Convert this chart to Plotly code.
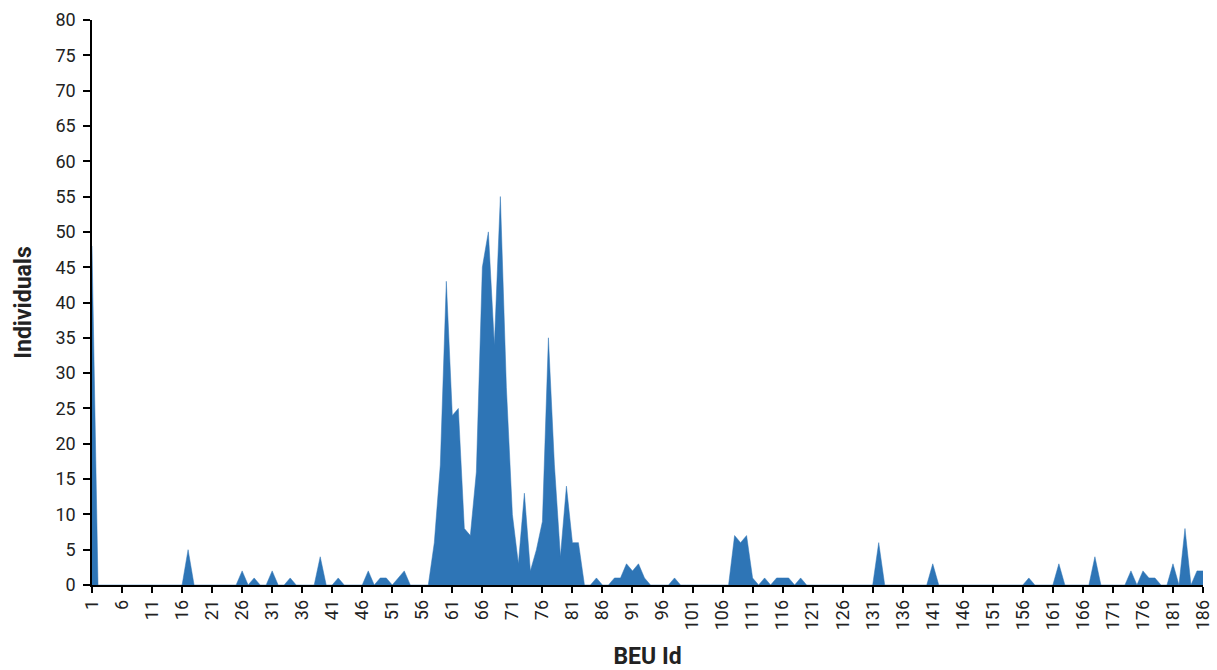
import plotly.graph_objects as go

# BEU ids (categories 1..186)
beu_ids = list(range(1, 187))

# Individuals per BEU id
individuals = [
    48, 0, 0, 0, 0, 0, 0, 0, 0, 0,            # 1-10
    0, 0, 0, 0, 0, 0, 5, 0, 0, 0,             # 11-20
    0, 0, 0, 0, 0, 2, 0, 1, 0, 0,             # 21-30
    2, 0, 0, 1, 0, 0, 0, 0, 4, 0,             # 31-40
    0, 1, 0, 0, 0, 0, 2, 0, 1, 1,             # 41-50
    0, 1, 2, 0, 0, 0, 0, 6, 17, 43,           # 51-60
    24, 25, 8, 7, 16, 45, 50, 34, 55, 28,     # 61-70
    10, 3, 13, 2, 5, 9, 35, 17, 4, 14,        # 71-80
    6, 6, 0, 0, 1, 0, 0, 1, 1, 3,             # 81-90
    2, 3, 1, 0, 0, 0, 0, 1, 0, 0,             # 91-100
    0, 0, 0, 0, 0, 0, 0, 7, 6, 7,             # 101-110
    1, 0, 1, 0, 1, 1, 1, 0, 1, 0,             # 111-120
    0, 0, 0, 0, 0, 0, 0, 0, 0, 0,             # 121-130
    0, 6, 0, 0, 0, 0, 0, 0, 0, 0,             # 131-140
    3, 0, 0, 0, 0, 0, 0, 0, 0, 0,             # 141-150
    0, 0, 0, 0, 0, 0, 1, 0, 0, 0,             # 151-160
    0, 3, 0, 0, 0, 0, 0, 4, 0, 0,             # 161-170
    0, 0, 0, 2, 0, 2, 1, 1, 0, 0,             # 171-180
    3, 0, 8, 0, 2, 2,                         # 181-186
]

x_tick_vals = [1, 6, 11, 16, 21, 26, 31, 36, 41, 46, 51, 56, 61, 66, 71, 76, 81, 86, 91, 96,
               101, 106, 111, 116, 121, 126, 131, 136, 141, 146, 151, 156, 161, 166, 171, 176,
               181, 186]
x_tick_text = [str(v) for v in x_tick_vals]
y_tick_vals = list(range(0, 85, 5))

FONT = "Roboto"
AREA_COLOR = "#2E75B6"

fig = go.Figure()
fig.add_trace(go.Scatter(
    x=beu_ids,
    y=individuals,
    mode="lines",
    fill="tozeroy",
    fillcolor=AREA_COLOR,
    line=dict(color=AREA_COLOR, width=0.5),
    hoverinfo="x+y",
    showlegend=False,
))

fig.update_layout(
    width=1217,
    height=670,
    margin=dict(l=92, r=14, t=20, b=85, autoexpand=False),
    paper_bgcolor="white",
    plot_bgcolor="white",
    font=dict(family=FONT, color="#222222", size=18),
    xaxis=dict(
        range=[1, 186],
        automargin=False,
        tickmode="array",
        tickvals=x_tick_vals,
        ticktext=x_tick_text,
        tickangle=-90,
        ticks="outside",
        ticklen=6,
        tickwidth=1.5,
        tickcolor="black",
        showline=True,
        linecolor="black",
        linewidth=1.5,
        showgrid=False,
        zeroline=False,
        tickfont=dict(family=FONT, size=18, color="#222222"),
        title=dict(text="<b>BEU Id</b>", font=dict(family=FONT, size=23, color="#222222"), standoff=21),
    ),
    yaxis=dict(
        range=[0, 80],
        automargin=False,
        tickmode="array",
        tickvals=y_tick_vals,
        ticks="outside",
        ticklen=7,
        tickwidth=1.5,
        tickcolor="black",
        ticklabelstandoff=4,
        showline=True,
        linecolor="black",
        linewidth=1.5,
        showgrid=False,
        zeroline=False,
        tickfont=dict(family=FONT, size=18, color="#222222"),
        title=dict(text="<b>Individuals</b>", font=dict(family=FONT, size=23, color="#222222"), standoff=17),
    ),
)

fig.write_html(
    "out.html",
    config={"displayModeBar": False},
    post_script="document.body.style.margin='0';document.body.style.overflow='hidden';",
)
